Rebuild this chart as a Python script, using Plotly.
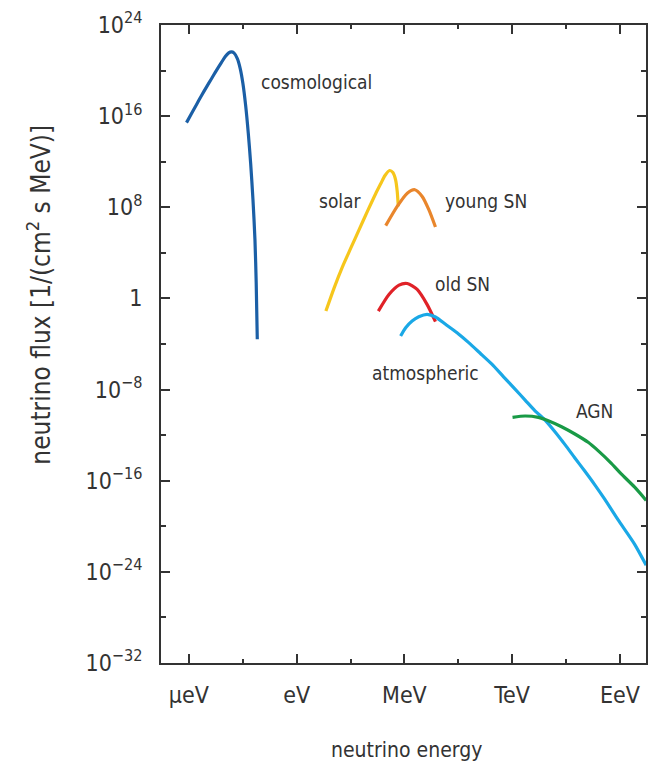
import plotly.graph_objects as go

# ---- data (energy in eV, flux in 1/(cm^2 s MeV)), values read as log10 ----
cosmo_logE = [-6.13, -5.85, -5.57, -5.30, -5.02, -4.74, -4.47, -4.19, -3.97, -3.78, -3.63, -3.49,
              -3.30, -3.14, -2.99, -2.84, -2.69, -2.56, -2.43, -2.32, -2.25, -2.19]
cosmo_logF = [15.43, 16.24, 17.03, 17.79, 18.55, 19.28, 20.0, 20.70, 21.23, 21.55, 21.64, 21.55,
              21.05, 20.18, 18.87, 16.97, 14.49, 11.87, 8.66, 5.16, 1.37, -3.59]

solar_logE = [1.63, 2.09, 2.55, 3.02, 3.48, 3.94, 4.40, 4.68, 4.92, 5.18, 5.36, 5.51, 5.60, 5.66]
solar_logF = [-1.11, 0.93, 2.77, 4.43, 6.04, 7.64, 9.19, 10.06, 10.79, 11.23, 11.05, 10.41, 9.39, 8.08]

young_logE = [4.96, 5.60, 6.16, 6.58, 6.99, 7.36, 7.73]
young_logF = [6.39, 8.08, 9.24, 9.54, 8.95, 7.79, 6.27]

old_logE = [4.55, 5.14, 5.70, 6.16, 6.71, 7.26, 7.73]
old_logF = [-1.11, 0.35, 1.17, 1.31, 0.79, -0.52, -2.04]

atm_logE = [5.79, 6.07, 6.43, 6.80, 7.27, 7.73, 8.29, 8.93, 9.58, 10.22, 10.87, 11.52, 12.16,
            12.72, 13.27, 13.83, 14.38, 14.94, 15.49, 16.05, 16.60, 17.15, 17.89, 18.82, 19.46]
atm_logF = [-3.30, -2.57, -1.98, -1.61, -1.40, -1.63, -2.27, -3.01, -3.88, -4.81, -5.77, -6.88,
            -7.96, -8.92, -9.86, -10.68, -11.70, -12.83, -14.0, -15.17, -16.36, -17.62, -19.42,
            -21.58, -23.42]

agn_logE = [12.02, 12.72, 13.46, 14.01, 14.75, 15.49, 16.23, 16.78, 17.52, 18.07, 18.82, 19.46]
agn_logF = [-10.44, -10.32, -10.44, -10.73, -11.26, -11.90, -12.63, -13.36, -14.47, -15.40,
            -16.57, -17.73]

series_names = ["cosmological", "solar", "young SN", "old SN", "atmospheric", "AGN"]
series_colors = ["#1b5fa6", "#f6c61c", "#e9862c", "#e02228", "#1aa8e6", "#199a46"]

x_tick_exp = [-6, 0, 6, 12, 18]
x_tick_text = ["\u03bceV", "eV", "MeV", "TeV", "EeV"]
x_minor_exp = [-3, 3, 9, 15]
y_tick_exp = [-32, -24, -16, -8, 0, 8, 16, 24]
y_minor_exp = [-28, -20, -12, -4, 4, 12, 20]

def ylab(e):
    if e == 0:
        return "1"
    return "10<sup>" + str(e).replace("-", "\u2212") + "</sup>"

FONT = "Liberation Sans Narrow, DejaVu Sans Condensed, Arial Narrow, sans-serif"
TXT = "#333333"

fig = go.Figure()
all_series = [(cosmo_logE, cosmo_logF), (solar_logE, solar_logF), (young_logE, young_logF),
              (old_logE, old_logF), (atm_logE, atm_logF), (agn_logE, agn_logF)]
for (le, lf), name, col in zip(all_series, series_names, series_colors):
    fig.add_trace(go.Scatter(
        x=[10 ** v for v in le], y=[10 ** v for v in lf], mode="lines", name=name,
        line=dict(color=col, width=3.2, shape="spline", smoothing=0.7),
        showlegend=False, hoverinfo="skip"))

# curve labels (log10 energy of left edge, log10 flux of middle)
labels = [
    ("cosmological", -2.12, 19.01),
    ("solar", 1.15, 8.51),
    ("young SN", 8.13, 8.51),
    ("old SN", 7.58, 1.25),
    ("atmospheric", 4.09, -6.53),
    ("AGN", 15.45, -9.86),
]
for t, lx, ly in labels:
    fig.add_annotation(x=lx, y=ly, xref="x", yref="y", text=t, showarrow=False,
                       xanchor="left", yanchor="middle",
                       font=dict(family=FONT, size=19, color=TXT))

# axis titles
fig.add_annotation(x=-0.252, y=0.577, xref="paper", yref="paper", textangle=-90,
                   xanchor="center", yanchor="middle",
                   text="neutrino flux [1/(cm<sup>2</sup> s MeV)]", showarrow=False,
                   font=dict(family=FONT, size=26, color=TXT))
fig.add_annotation(x=0.507, y=-0.136, xref="paper", yref="paper",
                   xanchor="center", yanchor="middle",
                   text="neutrino energy", showarrow=False,
                   font=dict(family=FONT, size=21, color=TXT))

axis_common = dict(showgrid=False, zeroline=False, showline=True, linecolor="#333333",
                   linewidth=2, mirror="allticks", ticks="inside", tickcolor="#333333",
                   tickwidth=1.6, tickfont=dict(family=FONT, size=23, color=TXT))

fig.update_xaxes(type="log", range=[-7.55, 19.45],
                 tickmode="array", tickvals=[10 ** e for e in x_tick_exp], ticktext=x_tick_text,
                 ticklen=9, ticklabelstandoff=10,
                 minor=dict(tickmode="array", tickvals=[10 ** e for e in x_minor_exp],
                            ticks="inside", ticklen=4, tickcolor="#333333", tickwidth=1.6),
                 **axis_common)
fig.update_yaxes(type="log", range=[-32, 24],
                 tickmode="array", tickvals=[10.0 ** e for e in y_tick_exp],
                 ticktext=[ylab(e) for e in y_tick_exp],
                 ticklen=9, ticklabelstandoff=12,
                 minor=dict(tickmode="array", tickvals=[10.0 ** e for e in y_minor_exp],
                            ticks="inside", ticklen=5, tickcolor="#333333", tickwidth=1.6),
                 **axis_common)

fig.update_layout(width=656, height=771, margin=dict(l=161, r=8, t=23, b=108),
                  plot_bgcolor="white", paper_bgcolor="white",
                  font=dict(family=FONT, color=TXT))

fig.write_html("out.html")
